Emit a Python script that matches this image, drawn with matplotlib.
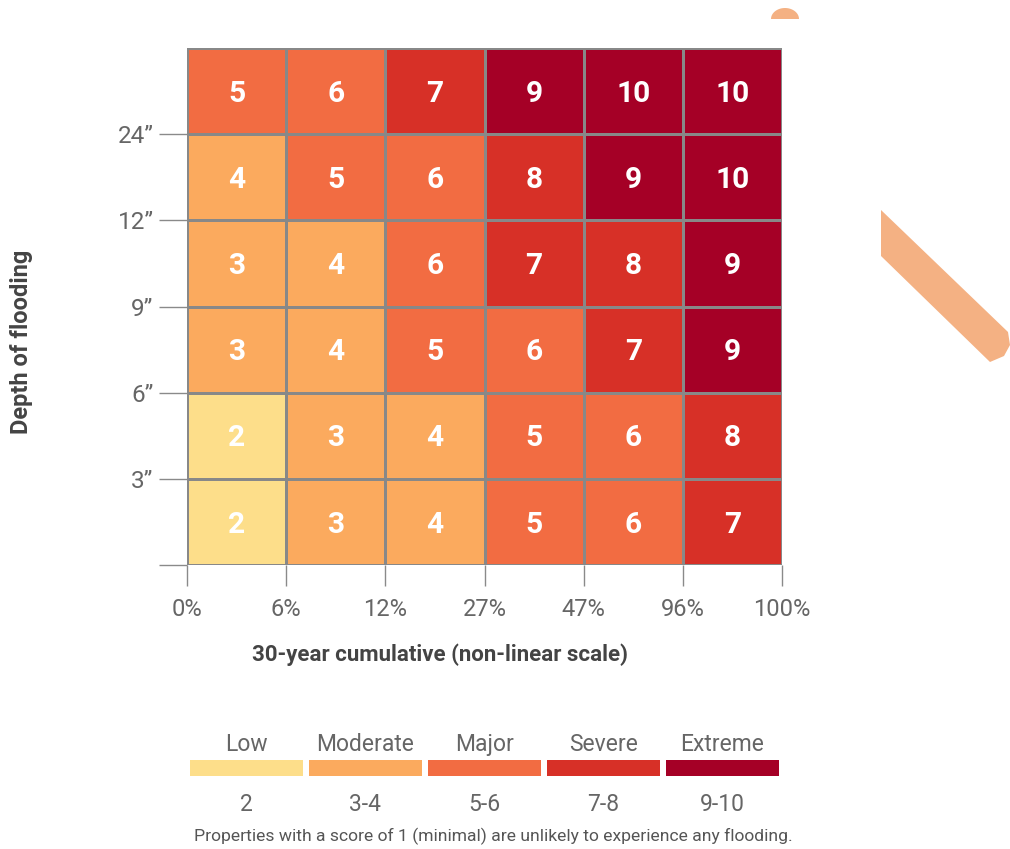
import matplotlib
matplotlib.use("Agg")
import matplotlib.pyplot as plt
import numpy as np
from matplotlib.colors import ListedColormap, BoundaryNorm
from matplotlib.patches import Polygon

plt.rcParams['font.family'] = ['Roboto', 'DejaVu Sans']

# Data
x_labels = ["0%", "6%", "12%", "27%", "47%", "96%", "100%"]
y_labels = ["", "3\u201d", "6\u201d", "9\u201d", "12\u201d", "24\u201d"]
scores_top_to_bottom = [
    [5, 6, 7, 9, 10, 10],
    [4, 5, 6, 8, 9, 10],
    [3, 4, 6, 7, 8, 9],
    [3, 4, 5, 6, 7, 9],
    [2, 3, 4, 5, 6, 8],
    [2, 3, 4, 5, 6, 7],
]
legend_names = ["Low", "Moderate", "Major", "Severe", "Extreme"]
legend_ranges = ["2", "3-4", "5-6", "7-8", "9-10"]
legend_colors = ["#FDDE8A", "#FBAA5E", "#F26C42", "#D73027", "#A50026"]
bounds = [1.5, 2.5, 4.5, 6.5, 8.5, 10.5]

W, H = 1010, 849
fig = plt.figure(figsize=(W / 100, H / 100), dpi=100)

def fx(px):
    return px / W

def fy(py):
    return 1 - py / H

ax = fig.add_axes([fx(187), fy(565), fx(782) - fx(187), fy(48) - fy(565)])
Z = np.array(scores_top_to_bottom[::-1])
cmap = ListedColormap(legend_colors)
norm = BoundaryNorm(bounds, cmap.N)
ax.pcolormesh(np.arange(7), np.arange(7), Z, cmap=cmap, norm=norm,
              edgecolors="#888888", linewidth=0.9)
for r in range(6):
    for c in range(6):
        ax.text(c + 0.5, r + 0.5 - 0.03, str(Z[r, c]), ha="center", va="center",
                color="white", fontsize=21.5, fontweight="bold")
ax.set_xlim(0, 6)
ax.set_ylim(0, 6)
for s in ax.spines.values():
    s.set_visible(False)
ax.set_xticks(np.arange(7))
ax.set_xticklabels(x_labels)
ax.set_yticks(np.arange(6))
ax.set_yticklabels(y_labels)
ax.tick_params(axis="x", length=15, width=1.0, color="#8a8a8a", labelcolor="#666666",
               labelsize=17, pad=9)
ax.tick_params(axis="y", length=20, width=1.0, color="#8a8a8a", labelcolor="#666666",
               labelsize=17.5, pad=4)
ax.set_xlabel("30-year cumulative (non-linear scale)", fontsize=16, fontweight="bold",
              color="#444444")
ax.xaxis.set_label_coords((fx(440) - fx(187)) / (fx(782) - fx(187)),
                          (fy(655) - fy(565)) / (fy(48) - fy(565)))
ax.xaxis.label.set_ha("center")
ax.xaxis.label.set_va("center")
fig.text(fx(22), fy(342), "Depth of flooding", rotation=90, ha="center", va="center",
         fontsize=17, fontweight="bold", color="#444444")

# Legend
lax = fig.add_axes([fx(187), fy(776), fx(782) - fx(187), fy(760) - fy(776)])
lax.set_xlim(0, 5)
lax.set_ylim(0, 1)
lax.axis("off")
gap = 0.045
lax.bar(np.arange(5) + 0.5, 1, width=1 - gap, color=legend_colors, align="center")
for i in range(5):
    cx = fx(187) + (i + 0.5) / 5 * (fx(782) - fx(187))
    fig.text(cx, fy(751), legend_names[i], ha="center", va="baseline", fontsize=16.5,
             color="#666666")
    fig.text(cx, fy(811), legend_ranges[i], ha="center", va="baseline", fontsize=16.5,
             color="#666666")
fig.text(fx(493), fy(836), "Properties with a score of 1 (minimal) are unlikely to experience any flooding.",
         ha="center", va="center", fontsize=12.6, color="#555555")

# Decorative shapes
deco = "#F4B183"
band = [(881, 210), (1008, 332), (1010, 345), (1004, 356), (990, 362), (881, 256)]
fig.patches.append(Polygon([(fx(a), fy(b)) for a, b in band], closed=True,
                           transform=fig.transFigure, facecolor=deco, edgecolor="none"))
t = np.linspace(0, np.pi, 30)
bump = [(785 + 14 * np.cos(a), 19 - 11 * np.sin(a)) for a in t]
fig.patches.append(Polygon([(fx(a), fy(b)) for a, b in bump], closed=True,
                           transform=fig.transFigure, facecolor=deco, edgecolor="none"))

fig.savefig("out.png", dpi=100)
